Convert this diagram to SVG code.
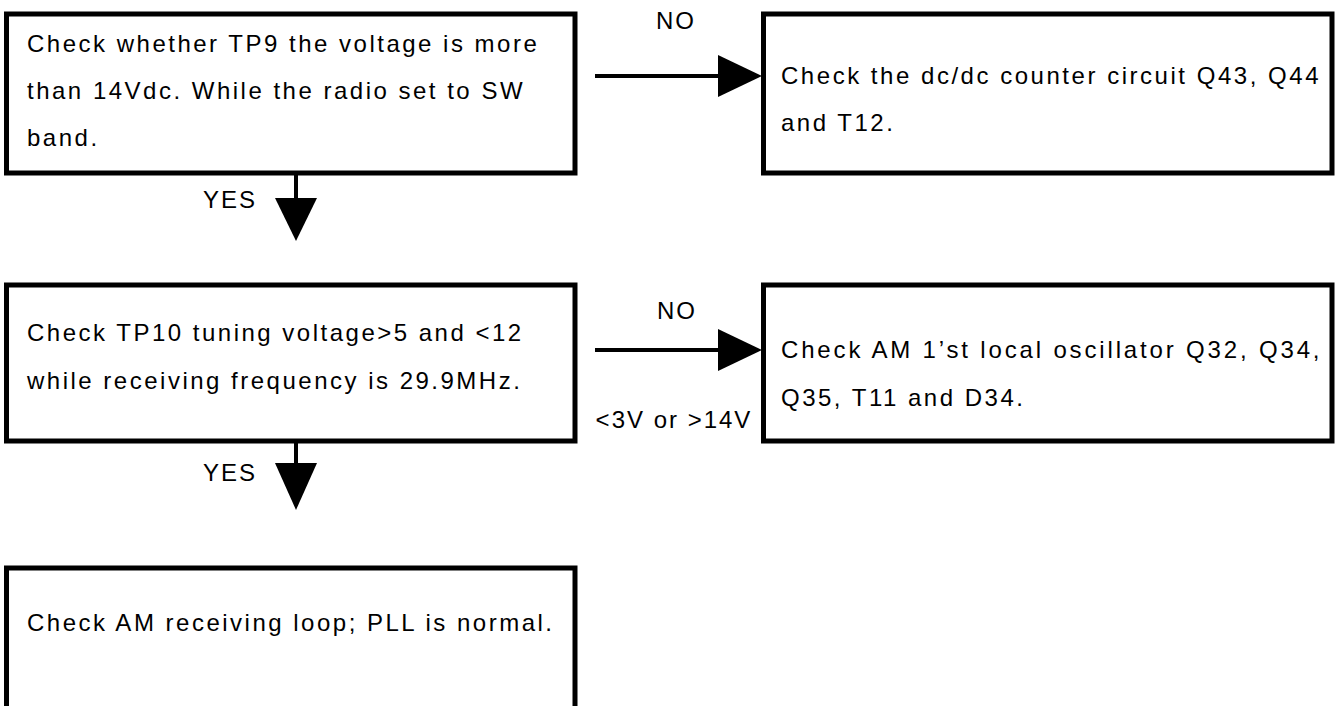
<svg xmlns="http://www.w3.org/2000/svg" width="1337" height="706" viewBox="0 0 1337 706">
  <defs>
    <style>
      .box { fill: #ffffff; stroke: #000000; stroke-width: 5; }
      .t { font-family: "Liberation Sans", Arial, sans-serif; font-size: 24px; letter-spacing: 2.5px; fill: #000000; }
      .lbl { font-family: "Liberation Sans", Arial, sans-serif; font-size: 24px; letter-spacing: 2px; fill: #000000; }
      .ln { stroke: #000000; stroke-width: 4; fill: none; }
      .head { fill: #000000; stroke: none; }
    </style>
  </defs>
  <rect x="0" y="0" width="1337" height="706" fill="#ffffff"/>

  <g id="node-tp9">
    <rect class="box" x="6.5" y="14" width="568.5" height="159"/>
    <text class="t" x="27" y="52">Check whether TP9 the voltage is more</text>
    <text class="t" x="27" y="99">than 14Vdc. While the radio set to SW</text>
    <text class="t" x="27" y="146">band.</text>
  </g>

  <g id="node-dcdc">
    <rect class="box" x="763.5" y="14" width="568.5" height="159"/>
    <text class="t" x="781" y="84" textLength="540" lengthAdjust="spacing">Check the dc/dc counter circuit Q43, Q44</text>
    <text class="t" x="781" y="131">and T12.</text>
  </g>

  <g id="node-tp10">
    <rect class="box" x="6.5" y="285" width="568.5" height="156"/>
    <text class="t" x="27" y="341">Check TP10 tuning voltage&gt;5 and &lt;12</text>
    <text class="t" x="27" y="389">while receiving frequency is 29.9MHz.</text>
  </g>

  <g id="node-osc">
    <rect class="box" x="763.5" y="285" width="568.5" height="156"/>
    <text class="t" x="781" y="358" textLength="541" lengthAdjust="spacing">Check AM 1’st local oscillator Q32, Q34,</text>
    <text class="t" x="781" y="406">Q35, T11 and D34.</text>
  </g>

  <g id="node-loop">
    <rect class="box" x="6.5" y="568" width="568.5" height="160"/>
    <text class="t" x="27" y="631">Check AM receiving loop; PLL is normal.</text>
  </g>

  <g id="connectors">
    <line class="ln" x1="595" y1="76" x2="722" y2="76"/>
    <polygon class="head" points="718,55 762,76 718,97"/>
    <text class="lbl" x="676" y="29" text-anchor="middle">NO</text>

    <line class="ln" x1="296" y1="174" x2="296" y2="200"/>
    <polygon class="head" points="275,198 317,198 296,241"/>
    <text class="lbl" x="203" y="208">YES</text>

    <line class="ln" x1="595" y1="350" x2="722" y2="350"/>
    <polygon class="head" points="718,329 762,350 718,371"/>
    <text class="lbl" x="677" y="319" text-anchor="middle">NO</text>
    <text class="lbl" x="674" y="428" text-anchor="middle">&lt;3V or &gt;14V</text>

    <line class="ln" x1="296" y1="442" x2="296" y2="465"/>
    <polygon class="head" points="275,463 317,463 296,510"/>
    <text class="lbl" x="203" y="481">YES</text>
  </g>
</svg>
